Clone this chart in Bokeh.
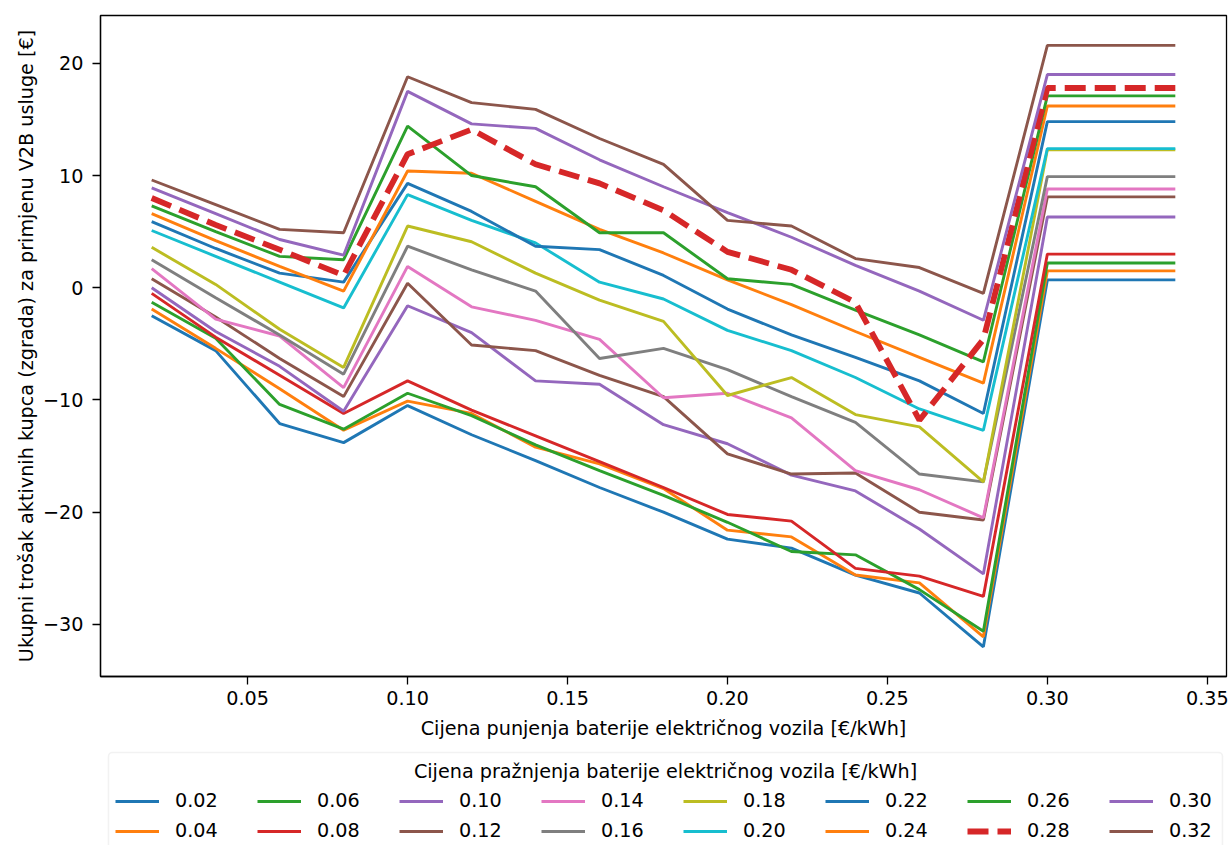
from bokeh.plotting import figure
from bokeh.layouts import column
from bokeh.models import (Range1d, FixedTicker, PrintfTickFormatter, Legend, LegendItem,
                          Label, BoxAnnotation)
from bokeh.embed import file_html
from bokeh.resources import INLINE

x_vals = [0.02, 0.04, 0.06, 0.08, 0.10, 0.12, 0.14, 0.16, 0.18, 0.20, 0.22, 0.24, 0.26, 0.28, 0.30, 0.32, 0.34]

s002 = [-2.5, -5.6, -12.1, -13.8, -10.5, -13.1, -15.4, -17.8, -20.0, -22.4, -23.2, -25.6, -27.2, -32.0, 0.7, 0.7, 0.7]
s004 = [-1.9, -5.4, -9.0, -12.7, -10.1, -11.2, -14.2, -15.7, -17.9, -21.6, -22.2, -25.6, -26.3, -31.1, 1.5, 1.5, 1.5]
s006 = [-1.3, -4.5, -10.4, -12.6, -9.4, -11.4, -14.0, -16.3, -18.5, -20.9, -23.5, -23.8, -26.9, -30.6, 2.2, 2.2, 2.2]
s008 = [-0.5, -4.4, -7.8, -11.2, -8.3, -10.9, -13.2, -15.5, -17.8, -20.2, -20.8, -25.0, -25.7, -27.5, 3.0, 3.0, 3.0]
s010 = [0.0, -3.9, -7.0, -11.0, -1.6, -4.0, -8.3, -8.6, -12.2, -13.9, -16.7, -18.1, -21.5, -25.5, 6.3, 6.3, 6.3]
s012 = [0.8, -2.6, -6.3, -9.7, 0.4, -5.1, -5.6, -7.8, -9.7, -14.8, -16.6, -16.5, -20.0, -20.7, 8.1, 8.1, 8.1]
s014 = [1.7, -2.8, -4.3, -8.9, 1.9, -1.7, -2.9, -4.6, -9.8, -9.4, -11.6, -16.3, -18.0, -20.5, 8.8, 8.8, 8.8]
s016 = [2.5, -0.9, -4.2, -7.7, 3.7, 1.6, -0.3, -6.3, -5.4, -7.3, -9.7, -12.0, -16.6, -17.3, 9.9, 9.9, 9.9]
s018 = [3.6, 0.3, -3.7, -7.1, 5.5, 4.1, 1.3, -1.1, -3.0, -9.6, -8.0, -11.3, -12.4, -17.3, 12.3, 12.3, 12.3]
s020 = [5.1, 2.8, 0.5, -1.8, 8.3, 6.0, 4.0, 0.5, -1.0, -3.8, -5.6, -8.0, -10.8, -12.7, 12.4, 12.4, 12.4]
s022 = [5.9, 3.5, 1.3, 0.5, 9.3, 6.8, 3.7, 3.4, 1.1, -1.9, -4.2, -6.2, -8.3, -11.2, 14.8, 14.8, 14.8]
s024 = [6.6, 4.2, 1.9, -0.3, 10.4, 10.2, 7.7, 5.2, 3.1, 0.7, -1.5, -3.9, -6.2, -8.5, 16.2, 16.2, 16.2]
s026 = [7.3, 5.0, 2.8, 2.5, 14.4, 10.0, 9.0, 4.9, 4.9, 0.8, 0.3, -2.0, -4.2, -6.6, 17.1, 17.1, 17.1]
s028 = [8.0, 5.6, 3.4, 1.1, 11.9, 14.1, 11.0, 9.3, 6.9, 3.2, 1.6, -1.3, -11.8, -4.6, 17.8, 17.8, 17.8]
s030 = [8.9, 6.6, 4.3, 2.9, 17.5, 14.6, 14.2, 11.4, 9.0, 6.7, 4.5, 2.0, -0.3, -2.9, 19.0, 19.0, 19.0]
s032 = [9.6, 7.4, 5.2, 4.9, 18.8, 16.5, 15.9, 13.3, 11.0, 6.0, 5.5, 2.6, 1.8, -0.5, 21.6, 21.6, 21.6]

series_labels = ["0.02", "0.04", "0.06", "0.08", "0.10", "0.12", "0.14", "0.16",
                 "0.18", "0.20", "0.22", "0.24", "0.26", "0.28", "0.30", "0.32"]
series_values = [s002, s004, s006, s008, s010, s012, s014, s016,
                 s018, s020, s022, s024, s026, s028, s030, s032]

x_ticks = [0.05, 0.10, 0.15, 0.20, 0.25, 0.30, 0.35]
y_ticks = [-30, -20, -10, 0, 10, 20]
y_tick_labels = ["\u221230", "\u221220", "\u221210", "0", "10", "20"]

x_title = "Cijena punjenja baterije električnog vozila [€/kWh]"
y_title = "Ukupni trošak aktivnih kupca (zgrada) za primjenu V2B usluge [€]"
legend_title = "Cijena pražnjenja baterije električnog vozila [€/kWh]"

tab10 = ["#1f77b4", "#ff7f0e", "#2ca02c", "#d62728", "#9467bd",
         "#8c564b", "#e377c2", "#7f7f7f", "#bcbd22", "#17becf"]

FONT = "DejaVu Sans"
FS = "19.2px"


def line_style(lab, i):
    if lab == "0.28":
        return dict(line_color=tab10[i % 10], line_width=5.8, line_dash="21 9")
    return dict(line_color=tab10[i % 10], line_width=2.9)


# ---------------- main chart ----------------
p = figure(width=1232, height=748, output_backend="svg", toolbar_location=None,
           x_range=Range1d(0.004, 0.356), y_range=Range1d(-34.64, 24.26),
           min_border_left=100, min_border_right=6, min_border_top=15, min_border_bottom=72)

p.xgrid.visible = False
p.ygrid.visible = False
p.outline_line_color = "black"
p.outline_line_width = 1.3
p.outline_line_alpha = 1

for i, (lab, vals) in enumerate(zip(series_labels, series_values)):
    p.line(x_vals, vals, **line_style(lab, i))

for ax in (p.xaxis[0], p.yaxis[0]):
    ax.axis_line_color = "black"
    ax.axis_line_width = 1.3
    ax.major_tick_line_color = "black"
    ax.major_tick_line_width = 1.3
    ax.major_tick_out = 8
    ax.major_tick_in = 0
    ax.minor_tick_line_color = None
    ax.major_label_text_font = FONT
    ax.major_label_text_font_size = FS
    ax.major_label_text_color = "black"
    ax.axis_label_text_font = FONT
    ax.axis_label_text_font_size = FS
    ax.axis_label_text_font_style = "normal"
    ax.axis_label_text_color = "black"

p.xaxis.ticker = FixedTicker(ticks=x_ticks)
p.xaxis.formatter = PrintfTickFormatter(format="%.2f")
p.xaxis.axis_label = x_title
p.xaxis.major_label_standoff = 6
p.xaxis.axis_label_standoff = 9

p.yaxis.ticker = FixedTicker(ticks=y_ticks)
p.yaxis.major_label_overrides = {t: l for t, l in zip(y_ticks, y_tick_labels)}
p.yaxis.axis_label = y_title
p.yaxis.major_label_standoff = 9
p.yaxis.axis_label_standoff = 2

# ---------------- legend strip below ----------------
# same frame borders as the chart above, so positions are relative to the frame
FL = 100
LH = 97
q = figure(width=1232, height=LH, output_backend="svg", toolbar_location=None,
           x_range=Range1d(0, 1), y_range=Range1d(1000, 1001),
           x_axis_location=None, y_axis_location=None,
           min_border_left=FL, min_border_right=6, min_border_top=0, min_border_bottom=0)
q.xgrid.visible = False
q.ygrid.visible = False
q.outline_line_color = None

legend_box = BoxAnnotation(left=108 - FL, right=1222 - FL, top=LH - 4, bottom=-20,
                           left_units="screen", right_units="screen",
                           top_units="screen", bottom_units="screen",
                           fill_color="white", fill_alpha=1,
                           line_color="#d4d4d4", line_width=1.6,
                           border_radius=4)
q.add_layout(legend_box)

# legend proxies: the same series, drawn in this strip outside its visible range
items = []
for i, (lab, vals) in enumerate(zip(series_labels, series_values)):
    r = q.line(x_vals, vals, **line_style(lab, i))
    items.append(LegendItem(label=lab, renderers=[r]))

# matplotlib fills legend columns first: reorder for row-major filling
ordered = items[0::2] + items[1::2]

legend = Legend(items=ordered, orientation="horizontal", ncols=8, nrows=2,
                location=(115 - FL, LH - 94))
legend.label_text_font = FONT
legend.label_text_font_size = FS
legend.label_text_color = "black"
legend.glyph_width = 44
legend.glyph_height = 20
legend.label_height = 20
legend.label_standoff = 16
legend.label_width = 75
legend.spacing = 7
legend.padding = 0
legend.margin = 0
legend.border_line_color = None
legend.background_fill_alpha = 0
q.add_layout(legend, "center")

title_label = Label(x=665 - FL, y=LH - 23, x_units="screen", y_units="screen",
                    text=legend_title, text_align="center", text_baseline="middle",
                    text_font=FONT, text_font_size=FS, text_color="black")
q.add_layout(title_label)

layout = column(p, q, spacing=0)

open("out.html", "w").write(file_html(layout, INLINE))
